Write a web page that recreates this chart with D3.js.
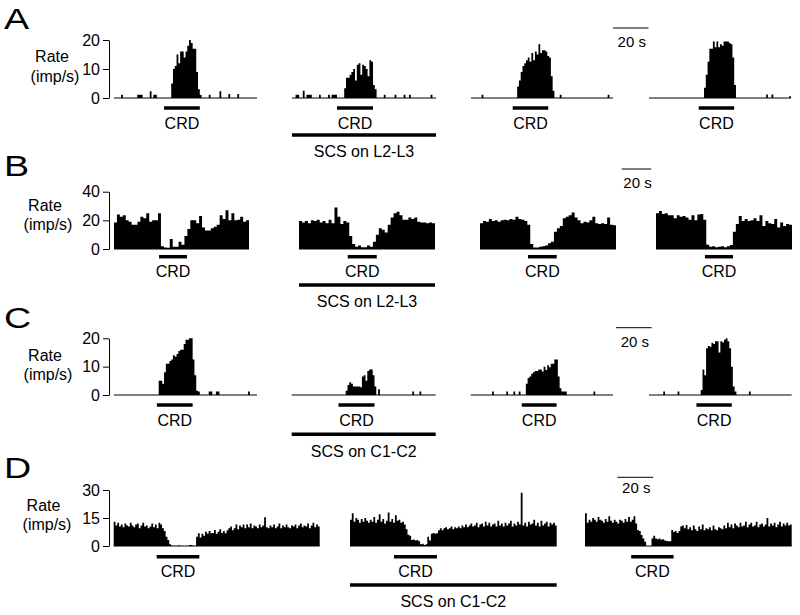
<!DOCTYPE html>
<html><head><meta charset="utf-8">
<script src="https://cdn.jsdelivr.net/npm/d3@7"></script>
<style>body{margin:0;background:#fff} text{font-family:"Liberation Sans",Arial,sans-serif;fill:#000}</style>
</head><body><svg id="c" width="800" height="615"></svg>
<script>
// ---------- data ----------
const rowLabels = ["A", "B", "C", "D"];
const ticksAC = [0, 10, 20];
const ticksB = [0, 20, 40];
const ticksD = [0, 15, 30];
const scsTexts = ["SCS on L2-L3", "SCS on L2-L3", "SCS on C1-C2", "SCS on C1-C2"];
const scaleText = "20 s";
const crdText = "CRD";

// Row A (1-s bins, 80 s)
const aP1 = [0,0,0,0,1.1,0,0,0,0,0,0,0,0,1.1,1.1,1.1,0,0,0,0,
  2.3,0,1.1,1.1,0,0,0,0,0,0,0,0,5,10,11,15,12,16,16,14,
  16,18,20,19,17,17,9,3,1,0,0,0,0,1.1,0,0,0,0,0,2.3,
  0,0,0,0,1.4,0,0,0,0,1.4,0,0,0,0,0,0,0,0,0,0];
const aP2 = [0,0,1.1,1.1,0,0,2.5,0,1.1,1.1,1.1,0,0,0,0,1.1,0,0,0,0,
  1.1,0,1.1,1.1,1.1,0,0,0,0,3.4,7,7,8,9,10,6,11.5,12,8,11.5,
  11,10,7.5,13,12.5,4.5,3,0,0,0,0,1.1,0,0,0,0,0,1.1,0,0,
  0,0,1.1,0,0,1.1,0,0,0,0,0,0,0,0,0,0,0,1.1,0,0];
const aP3 = [0,0,0,0,0,0,1.1,0,0,0,0,0,0,0,0,0,0,0,0,0,
  0,0,0,0,0,0,4,6,9,11,12,13,14,12.5,15.5,13,16,15,18.5,15.5,
  16.5,16.5,16,14.5,14,7.5,2.5,0,0,0,1.1,0,0,0,0,0,0,0,0,0,
  0,0,0,0,0,0,0,0,0,0,0,0,0,0,0,0,0,1.1,0,0];
const aP4 = [0,0,0,0,0,0,0,0,0,0,0,0,0,0,0,0,0,0,0,0,
  0,0,0,0,0,0,0,0,0,0,0,3.5,8,12.5,17,17,19.5,17.5,19.5,17.5,
  18.5,18,19.5,19.5,19.5,19,18.5,14,4.5,0,0,0,0,0,0,0,0,0,0,0,
  0,0,0,0,0,0,1.2,0,0,1.2,0,0,0,0,0,0,0,0,0,0.6];

// Row B (2-s bins, 92 s)
const bP1 = [18.5,24,22.5,23.5,20,19,17,17,19,22.5,
  21.5,25,19,20,20,25,2,1,0.8,7,
  1.5,1.5,5,3,9,14,20,20,18,23,
  15,13,13,14.5,15.5,17,23.5,21,27,20,
  25,20,20.5,22.5,19,20];
const bP2 = [19.5,18.5,19.5,18,20,19.5,20.5,18.5,19.5,18,
  20.5,18,29,22.5,17.5,19.5,18.5,9,3.5,1.5,
  2.5,1.2,1.2,2.5,1.5,5,10,14.5,13.5,11.5,
  17,22,25,26,23.5,20.5,20.5,22,21,22,
  19,18.5,18.5,18,18.5,18];
const bP3 = [18,19.5,19,21,19.5,20,19,20,20.5,20,
  21,20.5,22.5,21,20.5,19.5,17,3.5,1,1,
  1.5,2,2.5,4,5,12,14.5,16,21.5,22.5,
  23.5,25.5,22,20,18,19,18.5,20,22.5,18,
  17.5,18,17.5,22,17,16.5];
const bP4 = [25,26.5,24.5,25,23.5,23.5,21.5,23.5,22.5,23,
  22,20.5,23.5,20,24,24.5,20.5,3,1.5,2,
  1.2,1.5,2,1.2,2,2.8,12,17.5,23,19.5,
  21,19.5,20,21.5,19.5,23.5,16,19.5,18,17.5,
  21,15,18.5,16,17.5,17];

// Row C (1-s bins, 80 s)
const cP1 = [0,0,0,0,0,0,0,0,0,0,0,0,0,0,0,0,0,0,0,0,
  0,0,0,0,0,5,5,4,8,11,11,12,12.5,14,13.5,14.5,15.5,16,16,18,
  19.5,19.5,20,20,12.5,7,1.5,1.2,0,0,0,0,0,1.2,1.2,0,0,1.2,1.2,0,
  0,0,0,0,0,0,0,0,0,0,0,0,0,0,0,1.2,0,0,0,0];
const cP2 = [0,0,0,0,0,0,0,0,0,0,0,0,0,0,0,0,0,0,0,0,
  0,0,0,0,0,0,0,0,0,0,1.5,3.5,4.5,4,3,3,3,3,2.7,6.5,
  7,5,8.5,9,9,7,3,0,2,0,0,0,0,0,0,0,0,0,0,0,
  0,0,0,0,0,0,0,1.2,0,0,0,1.2,0,0,0,0,0,0,0,0];
const cP3 = [0,0,0,0,0,0,0,0,0,0,0,0,1.2,0,0,0,0,0,0,0,
  1.2,0,0,0,1.2,0,0,1.2,0,0,0,4,6,6.5,7.5,8,8.5,8.5,9,9,
  8.3,10,8.8,10.5,9.8,11,11,12.5,12.5,6.5,2.4,1.2,1.2,1.2,0,0,0,0,0,0,
  0,0,0,0,0,0,0,0,0,1.2,0,0,0,0,0,0,0,0,0,0];
const cP4 = [0,0,0,0,0,0,0,0,1.2,0,0,0,0,0,0,0,1.2,0,0,0,
  0,0,0,0,0,0,0,0,0,1.8,9,7,16.5,17.3,17,18.4,18,19,19,15,
  19,18.5,19.5,20,19,16.5,10,3,1.2,0,0,0,0,0,0,0,1.2,0,0,0,
  0,0,0,0,0,0,0,0,0,0,0,0,0,0,0,0,0,0,0,0];

// Row D (1-s bins, 115 s)
const dP1 = [13,11,12.5,10.5,11.5,10,12,11,10.5,12.5,
  11,10,11.5,12,9.5,11,12.5,10.5,11,9.5,
  10.5,12,10,11.5,9.5,12.5,11.5,9.5,8,5,
  3.2,1,0.3,0,0,0,0.4,0,0,0,
  0,0,0.5,0.5,0,0,5,6.8,4.5,6.5,
  5.5,7.7,6.5,8,6.8,7,8.6,6.5,7.7,9,
  7,8,6.8,8.5,9.5,10.4,8.5,9.5,11.5,9,
  11,10,11.5,9.5,11.5,10,12,9.5,11,10.5,
  9.5,11.5,10,11,15.4,10,9.5,11,10,11.5,
  9.5,10.5,12,9.5,11,10,11.5,10,9.5,11,
  10.5,11.5,9.5,11,12,10,11,10.5,12,9.5,
  11,12.5,10,11.5,10.5];
const dP2 = [14,17.5,13,15,14,12.5,14.5,13,15,13.5,
  12.5,14,13,15.5,12.5,14,17,13,14.5,12,
  13.5,18,13,14.5,12.5,16.5,13.5,14,12.5,13,
  11.5,9,6,5.5,3.2,3.5,3,3.2,2.5,1,
  1.2,0.5,1,5,3,6.5,7,6.5,6.8,8.5,
  9.5,8.5,9.5,10,9,9.5,10.5,9,10,9.5,
  10.5,9.5,11,10,11.5,10,11,12,10.5,11,
  12.5,10,11.5,12,10.5,13,11,12.5,10.5,11.5,
  12,10.5,13.5,11,12,10.5,12.5,11,12,13.5,
  10.5,12,11,13,11.5,28.5,11,12.5,10.5,13,
  11.5,12,14,11,12.5,10.5,13.5,11,12,13,
  10.5,12.5,11.5,12.5,11];
const dP3 = [17.5,12.5,14,13,15,14,13,15.5,14,13.5,
  12.5,14.5,13,16,13.5,12.5,14,13,12,14,
  13.5,12.5,14.5,13,15.5,13,14,16,12,8.6,
  8,5.9,4,2.3,0,0,0,4,5.5,4,
  3.6,4,3.3,3.6,3,2.7,2.5,2.5,8.6,7.5,
  8,7,8,10.5,11,9.5,11.2,9,10,8.5,
  11,9,8,10.5,9,11.5,8.5,9.5,9,10,
  8.5,11,9,8.5,10,9.5,9,11,9.5,12.5,
  10,11.5,9.5,12,11,10,12.5,10.5,11,13,
  10,11.5,12.5,10.5,11,13,10,11.5,12,10.5,
  11.5,15,10.5,12,11,12.5,10,11.5,13,10.5,
  12,11,12.5,11,11.5];

// CRD stimulus windows (s from start of each trace)
const crdA = [[28,48],[25,45],[23.5,43.5],[28,48]];
const crdB = [[30.7,49.7],[33,52.6],[32.5,51.9],[33.1,52.1]];
const crdC = [[24,44],[26,46],[28.7,48.3],[26.6,46.4]];
const crdD = [[24,47.8],[24.5,48.4],[25.7,49.3]];

// ---------- layout ----------
const rows = [
  {label:rowLabels[0], letterY:29, data:[aP1,aP2,aP3,aP4], bin:1, ticks:ticksAC, yMax:20,
   y0:98, yTop:40, px:[[114,257],[292,436],[471,613],[649,791]], crd:crdA, scs:1, scsText:scsTexts[0],
   crdBarY:108, crdTextY:129, scsBarY:135, scsTextY:157, scaleX:613, scaleY:28, scaleTextY:46.5,
   rateX:[52,55], rateY:[62,81.5]},
  {label:rowLabels[1], letterY:176, data:[bP1,bP2,bP3,bP4], bin:2, ticks:ticksB, yMax:40,
   y0:249, yTop:191.7, px:[[114,249],[299,435],[480,616],[656,792]], crd:crdB, scs:1, scsText:scsTexts[1],
   crdBarY:256.7, crdTextY:277, scsBarY:285, scsTextY:307, scaleX:621.7, scaleY:169, scaleTextY:188,
   rateX:[45,48], rateY:[210.5,230]},
  {label:rowLabels[2], letterY:328, data:[cP1,cP2,cP3,cP4], bin:1, ticks:ticksAC, yMax:20,
   y0:395, yTop:338.3, px:[[114,257],[291.7,435.7],[470.7,613],[649,791.7]], crd:crdC, scs:1, scsText:scsTexts[2],
   crdBarY:405, crdTextY:425.5, scsBarY:434.3, scsTextY:457, scaleX:616, scaleY:327.7, scaleTextY:346.5,
   rateX:[45,48], rateY:[360.5,380]},
  {label:rowLabels[3], letterY:478, data:[dP1,dP2,dP3], bin:1, ticks:ticksD, yMax:30,
   y0:546, yTop:490, px:[[113.7,319.7],[350,556.7],[585,791.7]], crd:crdD, scs:1, scsText:scsTexts[3],
   crdBarY:556.7, crdTextY:576.5, scsBarY:585, scsTextY:607, scaleX:617.3, scaleY:477.3, scaleTextY:493,
   rateX:[43.5,47], rateY:[510.5,530]}
];

const svg = d3.select("#c");
const axisX = 109;

rows.forEach(r => {
  const g = svg.append("g");
  const y = d3.scaleLinear().domain([0, r.yMax]).range([r.y0, r.yTop]);

  // row letter
  g.append("text").attr("x", 4).attr("y", r.letterY)
    .attr("font-size", 29).attr("transform", `translate(4,0) scale(1.3,1) translate(-4,0)`)
    .text(r.label);

  // y label
  g.append("text").attr("x", r.rateX[0]).attr("y", r.rateY[0]).attr("text-anchor","middle")
    .attr("font-size", 16).text("Rate");
  g.append("text").attr("x", r.rateX[1]).attr("y", r.rateY[1]).attr("text-anchor","middle")
    .attr("font-size", 16).text("(imp/s)");

  // y axis
  const ax = g.append("g").attr("transform", `translate(${axisX},0)`)
    .call(d3.axisLeft(y).tickValues(r.ticks).tickSize(6).tickSizeOuter(0).tickPadding(3));
  ax.selectAll("text").attr("font-size", 16).attr("font-family", "Liberation Sans, Arial, sans-serif").attr("fill","#000");
  ax.selectAll("line,path").attr("stroke", "#000").attr("stroke-width", 1);

  let lastX = null;
  r.data.forEach((vals, i) => {
    const dur = vals.length * r.bin;
    const x = d3.scaleLinear().domain([0, dur]).range(r.px[i]);
    lastX = x;
    // baseline
    g.append("line").attr("x1", x(0)).attr("x2", x(dur)).attr("y1", y(0)).attr("y2", y(0))
      .attr("stroke", "#000").attr("stroke-width", 1);
    // histogram (step area)
    const pts = vals.map((v, k) => ({t: k * r.bin, v}));
    pts.push({t: dur, v: vals[vals.length - 1]});
    const area = d3.area().x(d => x(d.t)).y0(y(0)).y1(d => y(d.v)).curve(d3.curveStepAfter);
    g.append("path").attr("d", area(pts)).attr("fill", "#000");
    // CRD bar
    const c = r.crd[i];
    g.append("line").attr("x1", x(c[0])).attr("x2", x(c[1])).attr("y1", r.crdBarY).attr("y2", r.crdBarY)
      .attr("stroke", "#000").attr("stroke-width", 3.5);
    g.append("text").attr("x", (x(c[0]) + x(c[1])) / 2).attr("y", r.crdTextY).attr("text-anchor", "middle")
      .attr("font-size", 16).text(crdText);
    // SCS bar
    if (i === r.scs) {
      g.append("line").attr("x1", x(0)).attr("x2", x(dur)).attr("y1", r.scsBarY).attr("y2", r.scsBarY)
        .attr("stroke", "#000").attr("stroke-width", 3.5);
      g.append("text").attr("x", (x(0) + x(dur)) / 2).attr("y", r.scsTextY).attr("text-anchor", "middle")
        .attr("font-size", 16).text(r.scsText);
    }
  });

  // 20 s scale bar
  const len = lastX(20) - lastX(0);
  g.append("line").attr("x1", r.scaleX).attr("x2", r.scaleX + len).attr("y1", r.scaleY).attr("y2", r.scaleY)
    .attr("stroke", "#000").attr("stroke-width", 1);
  g.append("text").attr("x", r.scaleX + len / 2 + 1).attr("y", r.scaleTextY).attr("text-anchor", "middle")
    .attr("font-size", 15).text(scaleText);
});
</script>
</body></html>
